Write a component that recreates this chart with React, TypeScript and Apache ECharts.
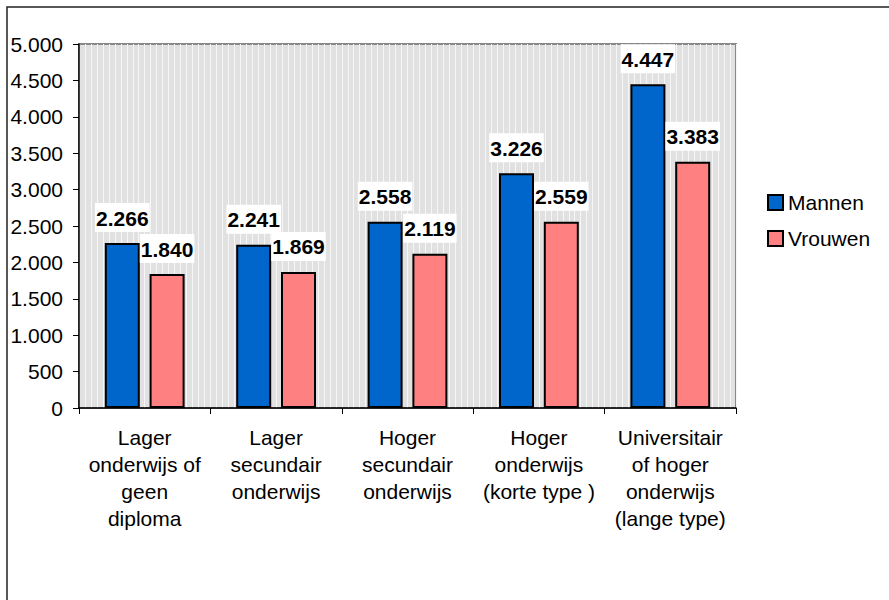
import React, { useEffect, useRef } from "react";
import * as echarts from "echarts";

const categories = [
  "Lager\nonderwijs of\ngeen\ndiploma",
  "Lager\nsecundair\nonderwijs",
  "Hoger\nsecundair\nonderwijs",
  "Hoger\nonderwijs\n(korte type )",
  "Universitair\nof hoger\nonderwijs\n(lange type)",
];
const seriesNames = ["Mannen", "Vrouwen"];
const mannen = [2266, 2241, 2558, 3226, 4447];
const vrouwen = [1840, 1869, 2119, 2559, 3383];
const yTicks = { min: 0, max: 5000, interval: 500 };

const FONT = "'Liberation Sans', Arial, sans-serif";
const fmt = (n: number) => String(n).replace(/\B(?=(\d{3})+(?!\d))/g, ".");

export default function App() {
  const ref = useRef<HTMLDivElement>(null);
  useEffect(() => {
    if (!ref.current) return;
    const chart = echarts.init(ref.current, undefined, { renderer: "svg" });
    const label = {
      show: true,
      position: "top" as const,
      distance: 11,
      formatter: (p: any) => fmt(p.value),
      fontFamily: FONT,
      fontSize: 21,
      fontWeight: "bold" as const,
      color: "#000",
      backgroundColor: "#fff",
      padding: [3, 1, 2, 1],
      lineHeight: 24,
    };
    chart.setOption({
      animation: false,
      textStyle: { fontFamily: FONT },
      graphic: [
        {
          type: "rect",
          shape: { x: 7, y: 7, width: 1000, height: 1000 },
          style: { fill: "none", stroke: "#222", lineWidth: 1.5 },
          z: 100,
        },
      ],
      grid: {
        left: 79,
        top: 44,
        right: 153,
        bottom: 192,
        show: true,
        backgroundColor: "#e1e1e1",
        borderColor: "#888",
        borderWidth: 2,
      },
      legend: {
        orient: "vertical",
        left: 762,
        top: 187,
        itemWidth: 15,
        itemHeight: 15,
        itemGap: 15,
        icon: "rect",
        textStyle: { fontFamily: FONT, fontSize: 21, color: "#000" },
        data: seriesNames,
      },
      xAxis: [
        {
          type: "category",
          data: categories,
          axisLine: { show: true, lineStyle: { color: "#000", width: 1.5 } },
          axisTick: { show: true, length: 6, lineStyle: { color: "#000" } },
          axisLabel: {
            interval: 0,
            margin: 16,
            fontFamily: FONT,
            fontSize: 21,
            lineHeight: 27,
            color: "#000",
            align: "center",
          },
          splitLine: { show: false },
        },
        {
          type: "value",
          min: 0,
          max: 110,
          interval: 1,
          position: "top",
          axisLine: { show: false },
          axisTick: { show: false },
          axisLabel: { show: false },
          splitLine: { show: true, lineStyle: { color: "#f6f6f6", width: 1 } },
        },
      ],
      yAxis: {
        type: "value",
        min: yTicks.min,
        max: yTicks.max,
        interval: yTicks.interval,
        axisLine: { show: true, lineStyle: { color: "#000", width: 1.5 } },
        axisTick: { show: true, length: 6, lineStyle: { color: "#000" } },
        axisLabel: {
          margin: 16,
          fontFamily: FONT,
          fontSize: 21,
          color: "#000",
          formatter: (v: number) => fmt(v),
        },
        splitLine: { show: false },
      },
      series: [
        {
          name: seriesNames[0],
          type: "bar",
          xAxisIndex: 0,
          data: mannen,
          barWidth: 35,
          barGap: "28%",
          itemStyle: { color: "#0066CC", borderColor: "#000", borderWidth: 2 },
          label,
        },
        {
          name: seriesNames[1],
          type: "bar",
          xAxisIndex: 0,
          data: vrouwen,
          barWidth: 35,
          barGap: "28%",
          itemStyle: { color: "#FF8080", borderColor: "#000", borderWidth: 2 },
          label,
        },
      ],
    });
    return () => chart.dispose();
  }, []);
  return (
    <div
      ref={ref}
      style={{ position: "absolute", left: 0, top: 0, width: 889, height: 600 }}
    />
  );
}
